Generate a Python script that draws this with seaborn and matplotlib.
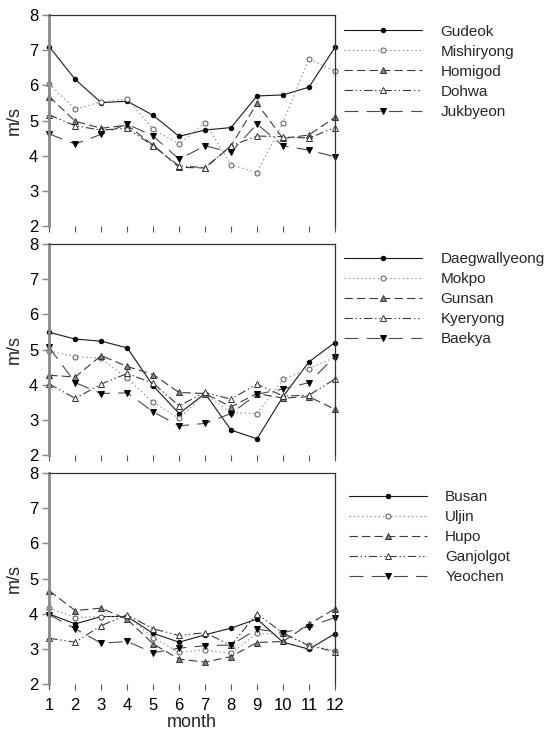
import matplotlib
matplotlib.use("Agg")
import matplotlib.pyplot as plt
import pandas as pd
import seaborn as sns

months = list(range(1, 13))

# Panel 1 stations
gudeok = [7.10, 6.17, 5.51, 5.55, 5.15, 4.55, 4.73, 4.80, 5.70, 5.73, 5.95, 7.08]
mishiryong = [6.04, 5.32, 5.53, 5.62, 4.75, 4.33, 4.94, 3.74, 3.52, 4.94, 6.76, 6.40]
homigod = [5.68, 4.98, 4.78, 4.87, 4.30, 3.67, 3.65, 4.28, 5.49, 4.49, 4.59, 5.09]
dohwa = [5.16, 4.85, 4.73, 4.78, 4.28, 3.71, 3.66, 4.28, 4.56, 4.54, 4.50, 4.80]
jukbyeon = [4.62, 4.33, 4.61, 4.90, 4.56, 3.90, 4.28, 4.10, 4.90, 4.28, 4.16, 3.97]

# Panel 2 stations
daegwallyeong = [5.49, 5.30, 5.24, 5.05, 3.97, 3.18, 3.75, 2.71, 2.46, 3.66, 4.65, 5.20]
mokpo = [4.96, 4.80, 4.75, 4.18, 3.50, 3.04, 3.75, 3.20, 3.18, 4.15, 4.46, 4.78]
gunsan = [4.27, 4.22, 4.83, 4.52, 4.29, 3.78, 3.75, 3.37, 3.75, 3.62, 3.66, 3.30]
kyeryong = [4.02, 3.61, 4.02, 4.32, 4.04, 3.40, 3.78, 3.59, 4.02, 3.68, 3.70, 4.16]
baekya = [5.06, 4.06, 3.75, 3.77, 3.23, 2.83, 2.90, 3.18, 3.73, 3.88, 4.06, 4.80]

# Panel 3 stations
busan = [3.99, 3.71, 3.92, 3.92, 3.44, 3.19, 3.40, 3.59, 3.85, 3.19, 2.99, 3.43]
uljin = [4.16, 3.89, 3.92, 3.92, 3.32, 2.90, 2.97, 2.87, 3.44, 3.42, 3.10, 2.95]
hupo = [4.65, 4.09, 4.16, 3.84, 3.14, 2.71, 2.62, 2.78, 3.18, 3.21, 3.70, 4.14]
ganjolgot = [3.30, 3.19, 3.66, 3.97, 3.57, 3.38, 3.46, 3.10, 4.00, 3.45, 3.09, 2.92]
yeochen = [3.97, 3.57, 3.16, 3.21, 2.89, 3.02, 3.09, 3.11, 3.56, 3.46, 3.63, 3.89]

panels = [
    (["Gudeok", "Mishiryong", "Homigod", "Dohwa", "Jukbyeon"],
     [gudeok, mishiryong, homigod, dohwa, jukbyeon]),
    (["Daegwallyeong", "Mokpo", "Gunsan", "Kyeryong", "Baekya"],
     [daegwallyeong, mokpo, gunsan, kyeryong, baekya]),
    (["Busan", "Uljin", "Hupo", "Ganjolgot", "Yeochen"],
     [busan, uljin, hupo, ganjolgot, yeochen]),
]

sns.set_theme(style="white")
plt.rcParams["font.family"] = ["Liberation Sans", "DejaVu Sans"]
plt.rcParams["lines.scale_dashes"] = False

# one line/marker style per station slot, shared by all panels
line_styles = [
    dict(color="#1a1a1a", linestyle="-", marker="o", markersize=3.2,
         markerfacecolor="black", markeredgecolor="black"),
    dict(color="#8c8c8c", linestyle=(0, (1, 2)), marker="o", markersize=3.6,
         markerfacecolor="white", markeredgecolor="#555555"),
    dict(color="#3a3a3a", linestyle=(0, (6, 3)), marker="^", markersize=4.8,
         markerfacecolor="#80809a", markeredgecolor="#333333"),
    dict(color="#3a3a3a", linestyle=(0, (6, 2, 1, 2, 1, 2)), marker="^", markersize=4.8,
         markerfacecolor="white", markeredgecolor="#333333"),
    dict(color="#4a4a4a", linestyle=(0, (10, 6)), marker="v", markersize=4.8,
         markerfacecolor="black", markeredgecolor="black"),
]

fig = plt.figure(figsize=(5.6, 7.32), dpi=100)
fig.patch.set_facecolor("white")

axes_bottoms = [0.6913, 0.3784, 0.0656]
legend_tops = [1 - 24.5 / 732, 1 - 252 / 732, 1 - 490 / 732]
legend_lefts = [344 / 560, 344 / 560, 349 / 560]

for i, (names, series) in enumerate(panels):
    ax = fig.add_axes([0.088, axes_bottoms[i], 0.510, 0.2880])
    for name, vals, st in zip(names, series, line_styles):
        df = pd.DataFrame({"month": months, "speed": vals})
        sns.lineplot(data=df, x="month", y="speed", ax=ax, label=name,
                     linewidth=0.8, markeredgewidth=0.7, clip_on=False, **st)

    ax.set_xlim(1, 12)
    ax.set_ylim(2, 8)
    ax.set_xticks(months)
    ax.set_yticks(range(2, 9))
    ax.set_ylabel("m/s", fontsize=13, labelpad=4)

    ax.spines["bottom"].set_visible(False)
    ax.spines["left"].set_color("#8a8a8a")
    ax.spines["left"].set_linewidth(2)
    for s in ("top", "right"):
        ax.spines[s].set_color("#333333")
        ax.spines[s].set_linewidth(0.9)

    ax.tick_params(axis="y", left=True, direction="out", length=5, width=1,
                   color="#888888", labelsize=12, pad=3, labelcolor="black")
    ax.tick_params(axis="x", bottom=True, direction="out", length=4, width=0.8,
                   color="#555555", labelsize=12, pad=6, labelcolor="black")
    if i < 2:
        ax.tick_params(axis="x", labelbottom=False)
        ax.set_xlabel("")
    else:
        ax.set_xlabel("month", fontsize=13, labelpad=1)

    handles, labels = ax.get_legend_handles_labels()
    ax.legend(handles, labels, loc="upper left",
              bbox_to_anchor=(legend_lefts[i], legend_tops[i]),
              bbox_transform=fig.transFigure, frameon=False,
              handlelength=5.1, handletextpad=1.2, labelspacing=0.4,
              fontsize=11, borderpad=0, borderaxespad=0, numpoints=1)

fig.savefig("out.png", dpi=100, facecolor="white")
